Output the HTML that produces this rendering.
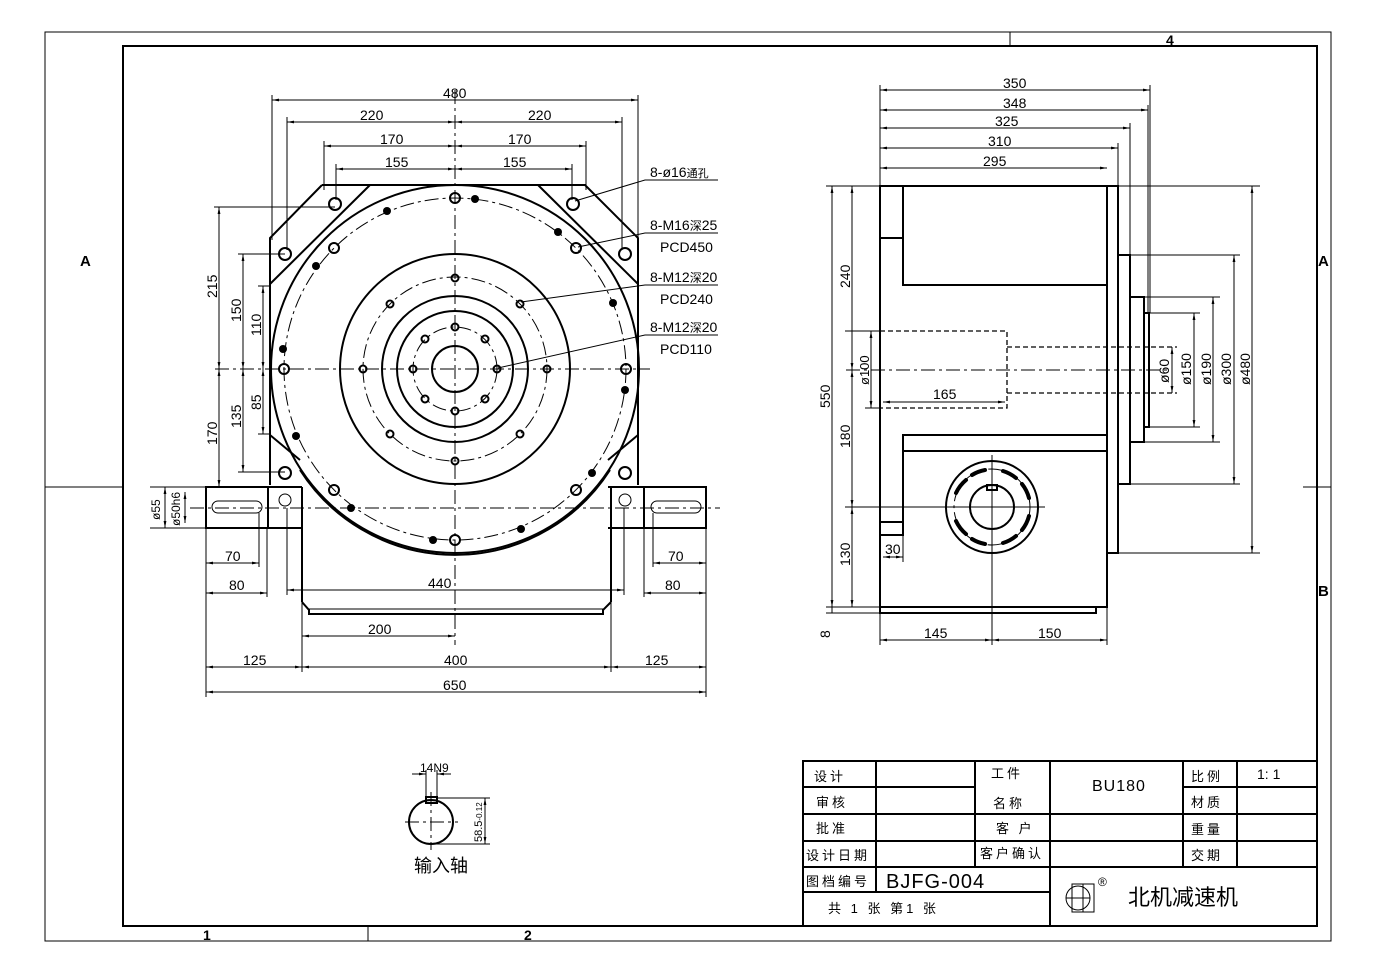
<!DOCTYPE html>
<html><head><meta charset="utf-8"><style>
html,body{margin:0;padding:0;background:#fff}
svg{display:block}
text{font-family:"Liberation Sans","Noto Sans CJK SC",sans-serif;fill:#000}
.t{font-size:14px}
.k{stroke:#000;fill:none;stroke-width:2}
.n{stroke:#000;fill:none;stroke-width:1}
.d{stroke:#000;fill:none;stroke-width:1;stroke-dasharray:14 4 3 4}
.s{stroke:#000;fill:none;stroke-width:1.3;stroke-dasharray:5 3}
</style></head><body>
<svg width="1380" height="976" viewBox="0 0 1380 976" xmlns="http://www.w3.org/2000/svg">
<defs>
<marker id="a" viewBox="0 0 10 10" refX="10" refY="5" markerWidth="7" markerHeight="7" orient="auto-start-reverse"><path d="M0,3 L10,5 L0,7z" fill="#000"/></marker>
</defs>
<!-- borders -->
<rect x="45" y="32" width="1286" height="909" class="n" stroke-width="1.5"/>
<rect x="123" y="46" width="1194" height="880" class="k"/>
<line x1="45" y1="487" x2="123" y2="487" class="n"/><line x1="1303" y1="487" x2="1331" y2="487" class="n"/>
<line x1="1010" y1="32" x2="1010" y2="46" class="n"/><line x1="368" y1="926" x2="368" y2="941" class="n"/>
<text x="80" y="266" font-size="15" font-weight="bold">A</text>
<text x="1318" y="266" font-size="15" font-weight="bold">A</text>
<text x="1318" y="596" font-size="15" font-weight="bold">B</text>
<text x="203" y="940" font-size="14" font-weight="bold">1</text>
<text x="524" y="940" font-size="14" font-weight="bold">2</text>
<text x="1166" y="45" font-size="14" font-weight="bold">4</text>

<!-- FRONT VIEW -->
<g>
<path class="k" d="M322,185 L585,185 L638,238 L638,485 M270,485 L270,238 L322,185"/>
<line class="k" x1="370" y1="185" x2="270" y2="284"/>
<line class="k" x1="538" y1="185" x2="638" y2="284"/>
<line class="k" x1="270" y1="435" x2="300" y2="460"/><line class="k" x1="638" y1="435" x2="608" y2="460"/>
<circle class="k" cx="455" cy="369" r="184"/>
<path class="k" d="M300,470 A184,184 0 0 0 610,470"/>
<circle class="d" cx="455" cy="369" r="171"/>
<circle class="k" cx="455" cy="369" r="115"/>
<circle class="d" cx="455" cy="369" r="92"/>
<circle class="k" cx="455" cy="369" r="73"/>
<circle class="k" cx="455" cy="369" r="58"/>
<circle class="d" cx="455" cy="369" r="42"/>
<circle class="k" cx="455" cy="369" r="23"/>
<line class="d" x1="215" y1="369" x2="650" y2="369"/>
<line class="d" x1="455" y1="90" x2="455" y2="645"/>
<!-- PCD450 holes -->
<g class="k" stroke-width="1.6">
<circle cx="455" cy="198" r="5"/><circle cx="576" cy="248" r="5"/><circle cx="626" cy="369" r="5"/><circle cx="576" cy="490" r="5"/>
<circle cx="455" cy="540" r="5"/><circle cx="334" cy="490" r="5"/><circle cx="284" cy="369" r="5"/><circle cx="334" cy="248" r="5"/>
<!-- corner holes -->
<circle cx="335" cy="204" r="6"/><circle cx="573" cy="204" r="6"/><circle cx="285" cy="254" r="6"/><circle cx="625" cy="254" r="6"/>
<circle cx="285" cy="473" r="6"/><circle cx="625" cy="473" r="6"/>
<!-- PCD240 -->
<circle cx="455" cy="278" r="3.5"/><circle cx="520" cy="304" r="3.5"/><circle cx="547" cy="369" r="3.5"/><circle cx="520" cy="434" r="3.5"/>
<circle cx="455" cy="461" r="3.5"/><circle cx="390" cy="434" r="3.5"/><circle cx="363" cy="369" r="3.5"/><circle cx="390" cy="304" r="3.5"/>
<!-- PCD110 -->
<circle cx="455" cy="327" r="3.5"/><circle cx="485" cy="339" r="3.5"/><circle cx="497" cy="369" r="3.5"/><circle cx="485" cy="399" r="3.5"/>
<circle cx="455" cy="411" r="3.5"/><circle cx="425" cy="399" r="3.5"/><circle cx="413" cy="369" r="3.5"/><circle cx="425" cy="339" r="3.5"/>
</g>
<g fill="#000">
<circle cx="475" cy="199" r="4"/><circle cx="387" cy="211" r="4"/><circle cx="558" cy="232" r="4"/><circle cx="316" cy="266" r="4"/>
<circle cx="613" cy="303" r="4"/><circle cx="283" cy="349" r="4"/><circle cx="625" cy="390" r="4"/><circle cx="296" cy="436" r="4"/>
<circle cx="592" cy="473" r="4"/><circle cx="351" cy="508" r="4"/><circle cx="521" cy="529" r="4"/><circle cx="433" cy="540" r="4"/>
</g>
<!-- bosses & shafts -->
<path class="k" d="M268,487 L302,487 M268,528 L302,528 M268,487 L268,528 M302,487 L302,602"/>
<path class="k" d="M644,487 L608,487 M644,528 L608,528 M644,487 L644,528 M611,487 L611,602"/>
<rect class="k" x="206" y="487" width="62" height="41"/>
<rect class="k" x="644" y="487" width="62" height="41"/>
<rect class="n" x="212" y="501" width="50" height="12" rx="6"/>
<rect class="n" x="651" y="501" width="50" height="12" rx="6"/>
<circle class="n" cx="285" cy="500" r="6"/><circle class="n" cx="625" cy="500" r="6"/>
<line class="d" x1="190" y1="508" x2="720" y2="508"/>
<path class="k" d="M302,602 L309,610 L309,614 L603,614 L603,610 L611,602"/>
<line class="n" x1="309" y1="609" x2="603" y2="609"/>
<!-- top dims -->
<g class="n">
<line x1="272" y1="95" x2="272" y2="240"/><line x1="638" y1="95" x2="638" y2="240"/>
<line x1="287" y1="117" x2="287" y2="250"/><line x1="622" y1="117" x2="622" y2="250"/>
<line x1="324" y1="141" x2="324" y2="190"/><line x1="586" y1="141" x2="586" y2="190"/>
<line x1="336" y1="164" x2="336" y2="200"/><line x1="572" y1="164" x2="572" y2="200"/>
<line x1="272" y1="100" x2="638" y2="100" marker-start="url(#a)" marker-end="url(#a)"/>
<line x1="287" y1="122" x2="455" y2="122" marker-start="url(#a)" marker-end="url(#a)"/>
<line x1="455" y1="122" x2="622" y2="122" marker-start="url(#a)" marker-end="url(#a)"/>
<line x1="324" y1="146" x2="455" y2="146" marker-start="url(#a)" marker-end="url(#a)"/>
<line x1="455" y1="146" x2="586" y2="146" marker-start="url(#a)" marker-end="url(#a)"/>
<line x1="336" y1="169" x2="455" y2="169" marker-start="url(#a)" marker-end="url(#a)"/>
<line x1="455" y1="169" x2="572" y2="169" marker-start="url(#a)" marker-end="url(#a)"/>
</g>
<text class="t" x="443" y="98">480</text>
<text class="t" x="360" y="120">220</text><text class="t" x="528" y="120">220</text>
<text class="t" x="380" y="144">170</text><text class="t" x="508" y="144">170</text>
<text class="t" x="385" y="167">155</text><text class="t" x="503" y="167">155</text>
<!-- left dims -->
<g class="n">
<line x1="214" y1="207" x2="335" y2="207"/><line x1="238" y1="254" x2="285" y2="254"/><line x1="258" y1="286" x2="270" y2="286"/>
<line x1="238" y1="472" x2="285" y2="472"/><line x1="258" y1="434" x2="270" y2="434"/>
<line x1="219" y1="207" x2="219" y2="369" marker-start="url(#a)" marker-end="url(#a)"/>
<line x1="219" y1="369" x2="219" y2="487" marker-start="url(#a)" marker-end="url(#a)"/>
<line x1="243" y1="254" x2="243" y2="369" marker-start="url(#a)" marker-end="url(#a)"/>
<line x1="243" y1="369" x2="243" y2="472" marker-start="url(#a)" marker-end="url(#a)"/>
<line x1="263" y1="286" x2="263" y2="369" marker-start="url(#a)" marker-end="url(#a)"/>
<line x1="263" y1="369" x2="263" y2="434" marker-start="url(#a)" marker-end="url(#a)"/>
</g>
<g class="t">
<text transform="translate(217,298) rotate(-90)">215</text>
<text transform="translate(217,445) rotate(-90)">170</text>
<text transform="translate(241,322) rotate(-90)">150</text>
<text transform="translate(241,428) rotate(-90)">135</text>
<text transform="translate(261,336) rotate(-90)">110</text>
<text transform="translate(261,410) rotate(-90)">85</text>
<text transform="translate(160,520) rotate(-90)" font-size="12">ø55</text>
<text transform="translate(180,526) rotate(-90)" font-size="12">ø50h6</text>
</g>
<g class="n">
<line x1="150" y1="487" x2="206" y2="487"/><line x1="150" y1="528" x2="206" y2="528"/>
<line x1="165" y1="487" x2="165" y2="528" marker-start="url(#a)" marker-end="url(#a)"/>
<line x1="185" y1="492" x2="185" y2="523" marker-start="url(#a)" marker-end="url(#a)"/>
</g>
<!-- bottom dims -->
<g class="n">
<line x1="206" y1="528" x2="206" y2="697"/><line x1="706" y1="528" x2="706" y2="697"/>
<line x1="259" y1="513" x2="259" y2="567"/><line x1="267" y1="528" x2="267" y2="597"/>
<line x1="653" y1="513" x2="653" y2="567"/><line x1="644" y1="528" x2="644" y2="597"/>
<line x1="287" y1="508" x2="287" y2="595"/><line x1="624" y1="508" x2="624" y2="595"/>
<line x1="302" y1="602" x2="302" y2="672"/><line x1="611" y1="602" x2="611" y2="672"/>
<line x1="206" y1="563" x2="259" y2="563" marker-start="url(#a)" marker-end="url(#a)"/>
<line x1="206" y1="593" x2="267" y2="593" marker-start="url(#a)" marker-end="url(#a)"/>
<line x1="653" y1="563" x2="706" y2="563" marker-start="url(#a)" marker-end="url(#a)"/>
<line x1="644" y1="593" x2="706" y2="593" marker-start="url(#a)" marker-end="url(#a)"/>
<line x1="287" y1="590" x2="624" y2="590" marker-start="url(#a)" marker-end="url(#a)"/>
<line x1="302" y1="636" x2="455" y2="636" marker-start="url(#a)" marker-end="url(#a)"/>
<line x1="206" y1="667" x2="302" y2="667" marker-start="url(#a)" marker-end="url(#a)"/>
<line x1="302" y1="667" x2="611" y2="667" marker-start="url(#a)" marker-end="url(#a)"/>
<line x1="611" y1="667" x2="706" y2="667" marker-start="url(#a)" marker-end="url(#a)"/>
<line x1="206" y1="692" x2="706" y2="692" marker-start="url(#a)" marker-end="url(#a)"/>
</g>
<text class="t" x="225" y="561">70</text><text class="t" x="229" y="590">80</text>
<text class="t" x="668" y="561">70</text><text class="t" x="665" y="590">80</text>
<text class="t" x="428" y="588">440</text><text class="t" x="368" y="634">200</text>
<text class="t" x="243" y="665">125</text><text class="t" x="444" y="665">400</text><text class="t" x="645" y="665">125</text>
<text class="t" x="443" y="690">650</text>
<!-- leaders -->
<g class="n">
<polyline points="575,201 645,180 718,180"/>
<polyline points="578,247 645,233 718,233"/>
<polyline points="521,302 645,285 718,285"/>
<polyline points="498,368 645,335 718,335"/>
</g>
<g class="t">
<text x="650" y="177">8-ø16<tspan font-size="11">通孔</tspan></text>
<text x="650" y="230">8-M16<tspan font-size="12">深</tspan>25</text><text x="660" y="252">PCD450</text>
<text x="650" y="282">8-M12<tspan font-size="12">深</tspan>20</text><text x="660" y="304">PCD240</text>
<text x="650" y="332">8-M12<tspan font-size="12">深</tspan>20</text><text x="660" y="354">PCD110</text>
</g>
</g>

<!-- SIDE VIEW -->
<g>
<rect class="k" x="880" y="186" width="227" height="421"/>
<path class="k" d="M880,607 L880,613 L1096,613 L1096,607"/>
<path class="k" d="M903,186 L903,285 L1107,285 M880,238 L903,238"/>
<path class="k" d="M1107,435 L903,435 L903,535 L880,535 M903,451 L1107,451 M880,522 L903,522"/>
<rect class="k" x="1107" y="186" width="11" height="367"/>
<rect class="k" x="1118" y="255" width="12" height="229"/>
<rect class="k" x="1130" y="297" width="14" height="145"/>
<rect class="k" x="1144" y="313" width="5" height="114"/>
<path class="s" d="M880,331 L1007,331 L1007,408 L880,408 M1007,347 L1177,347 M1007,393 L1177,393"/>
<line class="d" x1="846" y1="370" x2="1170" y2="370"/>
<circle class="k" cx="992" cy="507" r="46"/>
<circle class="d" cx="992" cy="507" r="38"/>
<circle class="k" cx="992" cy="507" r="22" stroke-width="3"/>
<rect class="k" x="987" y="485" width="10" height="5"/>
<g stroke="#000" stroke-width="4" fill="none" stroke-linecap="round">
<path d="M956,493 A38,38 0 0 1 966,480"/><path d="M972,475 A38,38 0 0 1 985,470"/>
<path d="M1003,471 A38,38 0 0 1 1016,478"/><path d="M1022,484 A38,38 0 0 1 1029,498"/>
<path d="M956,521 A38,38 0 0 0 966,534"/><path d="M972,539 A38,38 0 0 0 985,544"/>
<path d="M1003,543 A38,38 0 0 0 1016,536"/><path d="M1022,530 A38,38 0 0 0 1029,516"/>
</g>
<line class="n" x1="992" y1="455" x2="992" y2="645"/>
<line class="n" x1="845" y1="507" x2="1045" y2="507"/>
<!-- top dims -->
<g class="n">
<line x1="880" y1="85" x2="880" y2="186"/>
<line x1="1150" y1="85" x2="1150" y2="313"/><line x1="1148" y1="105" x2="1148" y2="313"/>
<line x1="1130" y1="123" x2="1130" y2="255"/><line x1="1118" y1="143" x2="1118" y2="186"/>
<line x1="880" y1="90" x2="1150" y2="90" marker-start="url(#a)" marker-end="url(#a)"/>
<line x1="880" y1="110" x2="1148" y2="110" marker-start="url(#a)" marker-end="url(#a)"/>
<line x1="880" y1="128" x2="1130" y2="128" marker-start="url(#a)" marker-end="url(#a)"/>
<line x1="880" y1="148" x2="1118" y2="148" marker-start="url(#a)" marker-end="url(#a)"/>
<line x1="880" y1="168" x2="1107" y2="168" marker-start="url(#a)" marker-end="url(#a)"/>
</g>
<text class="t" x="1003" y="88">350</text><text class="t" x="1003" y="108">348</text>
<text class="t" x="995" y="126">325</text><text class="t" x="988" y="146">310</text><text class="t" x="983" y="166">295</text>
<!-- right dims -->
<g class="n">
<line x1="1118" y1="186" x2="1260" y2="186"/><line x1="1118" y1="553" x2="1260" y2="553"/>
<line x1="1130" y1="255" x2="1240" y2="255"/><line x1="1130" y1="484" x2="1240" y2="484"/>
<line x1="1144" y1="297" x2="1220" y2="297"/><line x1="1144" y1="442" x2="1220" y2="442"/>
<line x1="1149" y1="313" x2="1200" y2="313"/><line x1="1149" y1="427" x2="1200" y2="427"/>
<line x1="1252" y1="186" x2="1252" y2="553" marker-start="url(#a)" marker-end="url(#a)"/>
<line x1="1234" y1="255" x2="1234" y2="484" marker-start="url(#a)" marker-end="url(#a)"/>
<line x1="1213" y1="297" x2="1213" y2="442" marker-start="url(#a)" marker-end="url(#a)"/>
<line x1="1194" y1="313" x2="1194" y2="427" marker-start="url(#a)" marker-end="url(#a)"/>
<line x1="1172" y1="347" x2="1172" y2="393" marker-start="url(#a)" marker-end="url(#a)"/>
</g>
<g class="t" font-size="13">
<text transform="translate(1250,385) rotate(-90)">ø480</text>
<text transform="translate(1231,385) rotate(-90)">ø300</text>
<text transform="translate(1211,385) rotate(-90)">ø190</text>
<text transform="translate(1191,385) rotate(-90)">ø150</text>
<text transform="translate(1169,383) rotate(-90)">ø60</text>
</g>
<!-- left dims -->
<g class="n">
<line x1="826" y1="186" x2="880" y2="186"/><line x1="826" y1="613" x2="880" y2="613"/><line x1="826" y1="607" x2="880" y2="607"/>
<line x1="845" y1="331" x2="880" y2="331"/><line x1="865" y1="408" x2="880" y2="408"/>
<line x1="832" y1="186" x2="832" y2="607" marker-start="url(#a)" marker-end="url(#a)"/>
<line x1="832" y1="607" x2="832" y2="613"/>
<line x1="852" y1="186" x2="852" y2="370" marker-start="url(#a)" marker-end="url(#a)"/>
<line x1="852" y1="370" x2="852" y2="507" marker-start="url(#a)" marker-end="url(#a)"/>
<line x1="852" y1="507" x2="852" y2="607" marker-start="url(#a)" marker-end="url(#a)"/>
<line x1="871" y1="331" x2="871" y2="408" marker-start="url(#a)" marker-end="url(#a)"/>
<line x1="883" y1="402" x2="1005" y2="402" marker-start="url(#a)" marker-end="url(#a)"/>
<line x1="883" y1="557" x2="903" y2="557" marker-start="url(#a)" marker-end="url(#a)"/>
<line x1="903" y1="535" x2="903" y2="562"/>
<line x1="880" y1="613" x2="880" y2="645"/><line x1="1107" y1="607" x2="1107" y2="645"/>
<line x1="880" y1="640" x2="992" y2="640" marker-start="url(#a)" marker-end="url(#a)"/>
<line x1="992" y1="640" x2="1107" y2="640" marker-start="url(#a)" marker-end="url(#a)"/>
</g>
<g class="t">
<text transform="translate(830,408) rotate(-90)">550</text>
<text transform="translate(850,288) rotate(-90)">240</text>
<text transform="translate(850,448) rotate(-90)">180</text>
<text transform="translate(850,566) rotate(-90)">130</text>
<text transform="translate(830,638) rotate(-90)">8</text>
<text transform="translate(869,385) rotate(-90)" font-size="13">ø100</text>
<text x="933" y="399">165</text>
<text x="885" y="554">30</text>
<text x="924" y="638">145</text><text x="1038" y="638">150</text>
</g>
</g>

<!-- key detail -->
<g>
<circle class="k" cx="431" cy="822" r="22"/>
<rect class="k" x="426" y="797" width="11" height="6" fill="#fff"/>
<line class="d" x1="405" y1="822" x2="458" y2="822"/>
<line class="d" x1="431" y1="792" x2="431" y2="850"/>
<g class="n">
<line x1="426" y1="770" x2="426" y2="797"/><line x1="437" y1="770" x2="437" y2="797"/>
<line x1="412" y1="774" x2="426" y2="774" marker-end="url(#a)"/><line x1="451" y1="774" x2="437" y2="774" marker-end="url(#a)"/>
<line x1="437" y1="798" x2="490" y2="798"/><line x1="431" y1="844" x2="490" y2="844"/>
<line x1="485" y1="798" x2="485" y2="844" marker-start="url(#a)" marker-end="url(#a)"/>
</g>
<text x="420" y="772" font-size="12">14N9</text>
<text transform="translate(482,842) rotate(-90)" font-size="11">58.5<tspan font-size="8">-0.12</tspan></text>
<text x="414" y="872" font-size="18">输入轴</text>
</g>

<!-- title block -->
<g>
<rect class="k" x="803" y="761" width="514" height="165"/>
<g class="k">
<line x1="803" y1="787" x2="975" y2="787"/><line x1="1183" y1="787" x2="1317" y2="787"/>
<line x1="803" y1="814" x2="1317" y2="814"/><line x1="803" y1="841" x2="1317" y2="841"/>
<line x1="803" y1="867" x2="1317" y2="867"/><line x1="803" y1="892" x2="1050" y2="892"/>
<line x1="876" y1="761" x2="876" y2="892"/><line x1="975" y1="761" x2="975" y2="867"/>
<line x1="1050" y1="761" x2="1050" y2="926"/><line x1="1183" y1="761" x2="1183" y2="867"/>
<line x1="1237" y1="761" x2="1237" y2="867"/>
</g>
<g font-size="13" style="letter-spacing:3px">
<text x="814" y="781">设计</text><text x="816" y="807">审核</text><text x="816" y="833">批准</text>
<text x="806" y="860">设计日期</text><text x="806" y="886">图档编号</text>
<text x="991" y="778">工件</text><text x="993" y="808">名称</text><text x="996" y="833">客 户</text>
<text x="980" y="858">客户确认</text>
<text x="1191" y="781">比例</text><text x="1191" y="807">材质</text><text x="1191" y="834">重量</text><text x="1191" y="860">交期</text>
<text x="828" y="913">共 1 张 第1 张</text>
</g>
<text x="1092" y="791" font-size="16" font-family="Liberation Serif" style="letter-spacing:1px">BU180</text>
<text x="1257" y="779" font-size="14" font-family="Liberation Serif">1: 1</text>
<text x="886" y="888" font-size="20" style="letter-spacing:1px">BJFG-004</text>
<g class="n" stroke-width="1.5">
<circle cx="1078" cy="898" r="12"/><rect x="1072" y="884" width="22" height="28"/>
<line x1="1083" y1="884" x2="1083" y2="912"/><line x1="1066" y1="898" x2="1090" y2="898"/>
</g>
<text x="1098" y="886" font-size="12">®</text>
<text x="1128" y="905" font-size="22">北机减速机</text>
</g>
</svg>
</body></html>
